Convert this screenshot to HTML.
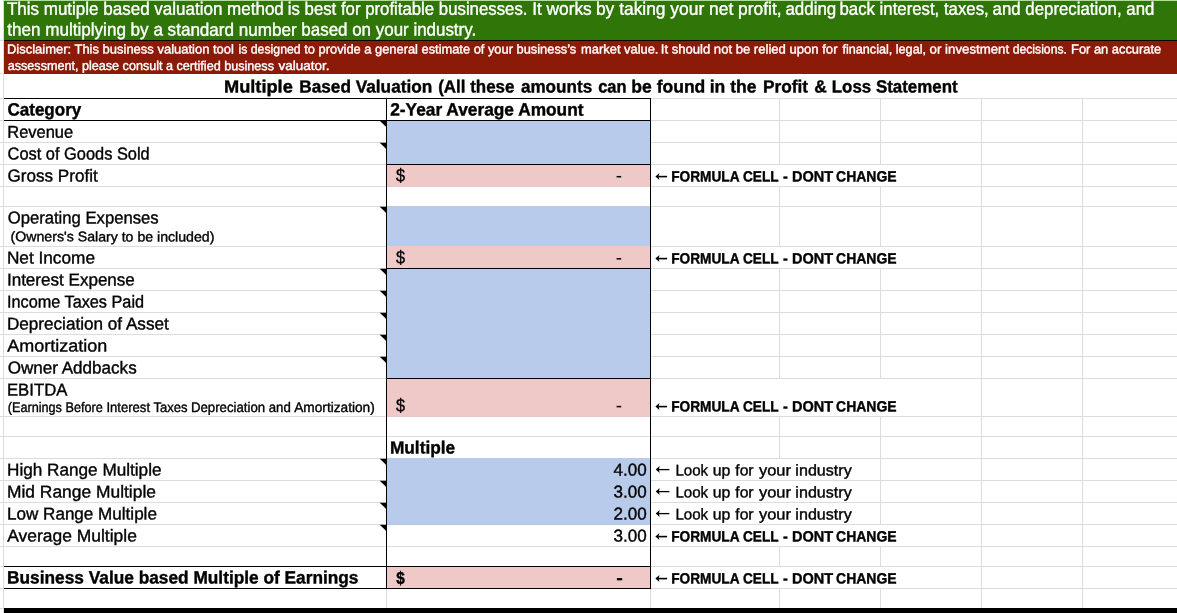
<!DOCTYPE html>
<html><head><meta charset="utf-8"><title>Multiple Based Valuation</title>
<style>
html,body{margin:0;padding:0;background:#fff;}
body{width:1177px;height:613px;position:relative;overflow:hidden;font-family:"Liberation Sans",sans-serif;color:#000;}
.a{position:absolute;}
.t{position:absolute;white-space:pre;transform-origin:0 0;line-height:1;}
.hl{position:absolute;height:1px;background:#dcdcdc;left:0;width:1177px;}
.vl{position:absolute;width:1px;background:#dcdcdc;}
.bk{background:#000;}
svg{position:absolute;left:0;top:0;}
</style></head><body>

<div class="hl" style="top:40px"></div>
<div class="hl" style="top:73px"></div>
<div class="hl" style="top:98px"></div>
<div class="hl" style="top:120px"></div>
<div class="hl" style="top:142px"></div>
<div class="hl" style="top:164px"></div>
<div class="hl" style="top:186px"></div>
<div class="hl" style="top:206px"></div>
<div class="hl" style="top:246px"></div>
<div class="hl" style="top:268px"></div>
<div class="hl" style="top:290px"></div>
<div class="hl" style="top:312px"></div>
<div class="hl" style="top:334px"></div>
<div class="hl" style="top:356px"></div>
<div class="hl" style="top:378px"></div>
<div class="hl" style="top:416px"></div>
<div class="hl" style="top:436px"></div>
<div class="hl" style="top:458px"></div>
<div class="hl" style="top:480px"></div>
<div class="hl" style="top:502px"></div>
<div class="hl" style="top:524px"></div>
<div class="hl" style="top:546px"></div>
<div class="hl" style="top:566px"></div>
<div class="hl" style="top:588px"></div>
<div class="hl" style="top:608px"></div>
<div class="vl" style="left:3px;top:0;height:613px"></div>
<div class="vl" style="left:386px;top:99px;height:509px"></div>
<div class="vl" style="left:650px;top:99px;height:509px"></div>
<div class="vl" style="left:779px;top:99px;height:509px"></div>
<div class="vl" style="left:880px;top:99px;height:509px"></div>
<div class="vl" style="left:981px;top:99px;height:509px"></div>
<div class="vl" style="left:1082px;top:99px;height:509px"></div>
<div class="a" style="left:651px;top:165px;width:246px;height:21px;background:#fff"></div>
<div class="a" style="left:651px;top:247px;width:246px;height:21px;background:#fff"></div>
<div class="a" style="left:651px;top:379px;width:246px;height:37px;background:#fff"></div>
<div class="a" style="left:651px;top:525px;width:246px;height:21px;background:#fff"></div>
<div class="a" style="left:651px;top:567px;width:246px;height:21px;background:#fff"></div>
<div class="a" style="left:651px;top:459px;width:202px;height:21px;background:#fff"></div>
<div class="a" style="left:651px;top:481px;width:202px;height:21px;background:#fff"></div>
<div class="a" style="left:651px;top:503px;width:202px;height:21px;background:#fff"></div>
<div class="a" style="left:4px;top:0px;width:1173px;height:1px;background:#b4dc9a"></div>
<div class="a" style="left:4px;top:1px;width:1173px;height:39px;background:#2f7508"></div>
<div class="a" style="left:4px;top:40px;width:1173px;height:1px;background:#0c0600"></div>
<div class="a" style="left:4px;top:41px;width:1173px;height:33px;background:#8c1a08"></div>
<div class="a" style="left:387px;top:121px;width:263px;height:43px;background:#b9cbeb"></div>
<div class="a" style="left:387px;top:165px;width:263px;height:21px;background:#efc8c8"></div>
<div class="a" style="left:387px;top:186px;width:263px;height:1px;background:#e6c6c6"></div>
<div class="a" style="left:387px;top:206px;width:263px;height:40px;background:#b9cbeb"></div>
<div class="a" style="left:387px;top:246px;width:263px;height:22px;background:#efc8c8"></div>
<div class="a" style="left:387px;top:269px;width:263px;height:109px;background:#b9cbeb"></div>
<div class="a" style="left:387px;top:379px;width:263px;height:37px;background:#efc8c8"></div>
<div class="a" style="left:387px;top:416px;width:263px;height:1px;background:#e6c6c6"></div>
<div class="a" style="left:387px;top:458px;width:263px;height:66px;background:#b9cbeb"></div>
<div class="a" style="left:387px;top:524px;width:263px;height:1px;background:#b4c4e2"></div>
<div class="a" style="left:387px;top:567px;width:263px;height:21px;background:#efc8c8"></div>
<div class="a bk" style="left:4px;top:98px;width:647px;height:1px"></div>
<div class="a bk" style="left:4px;top:120px;width:647px;height:1px"></div>
<div class="a bk" style="left:386px;top:164px;width:265px;height:1px"></div>
<div class="a bk" style="left:386px;top:268px;width:265px;height:1px"></div>
<div class="a bk" style="left:386px;top:378px;width:265px;height:1px"></div>
<div class="a bk" style="left:4px;top:566px;width:647px;height:1px"></div>
<div class="a bk" style="left:4px;top:588px;width:647px;height:1px"></div>
<div class="a bk" style="left:386px;top:98px;width:1px;height:491px"></div>
<div class="a bk" style="left:650px;top:98px;width:1px;height:491px"></div>
<div class="a" style="left:4px;top:608px;width:1173px;height:5px;background:#000"></div>
<svg width="1177" height="613" viewBox="0 0 1177 613"><path d="M379.7 120.8H386.5V127.3Z" fill="#000"/><path d="M379.7 142.8H386.5V149.3Z" fill="#000"/><path d="M379.7 206.8H386.5V213.3Z" fill="#000"/><path d="M379.7 268.8H386.5V275.3Z" fill="#000"/><path d="M379.7 290.8H386.5V297.3Z" fill="#000"/><path d="M379.7 312.8H386.5V319.3Z" fill="#000"/><path d="M379.7 334.8H386.5V341.3Z" fill="#000"/><path d="M379.7 356.8H386.5V363.3Z" fill="#000"/><path d="M379.7 458.8H386.5V465.3Z" fill="#000"/><path d="M379.7 480.8H386.5V487.3Z" fill="#000"/><path d="M379.7 502.8H386.5V509.3Z" fill="#000"/><path d="M379.7 524.8H386.5V531.3Z" fill="#000"/><path d="M658.4 175.79999999999998H667.1V177.4H658.4Z" fill="#000"/><path d="M655.4 176.6L659.4 173.1L658.6 176.6L659.4 180.1Z" fill="#000"/><path d="M658.4 257.8H667.1V259.40000000000003H658.4Z" fill="#000"/><path d="M655.4 258.6L659.4 255.10000000000002L658.6 258.6L659.4 262.1Z" fill="#000"/><path d="M658.4 405.8H667.1V407.40000000000003H658.4Z" fill="#000"/><path d="M655.4 406.6L659.4 403.1L658.6 406.6L659.4 410.1Z" fill="#000"/><path d="M658.4 535.8000000000001H667.1V537.4H658.4Z" fill="#000"/><path d="M655.4 536.6L659.4 533.1L658.6 536.6L659.4 540.1Z" fill="#000"/><path d="M658.4 577.8000000000001H667.1V579.4H658.4Z" fill="#000"/><path d="M655.4 578.6L659.4 575.1L658.6 578.6L659.4 582.1Z" fill="#000"/><path d="M658.7 468.95000000000005H669.4V470.25H658.7Z" fill="#000"/><path d="M655.7 469.6L659.7 466.1L658.9000000000001 469.6L659.7 473.1Z" fill="#000"/><path d="M658.7 490.95000000000005H669.4V492.25H658.7Z" fill="#000"/><path d="M655.7 491.6L659.7 488.1L658.9000000000001 491.6L659.7 495.1Z" fill="#000"/><path d="M658.7 512.95H669.4V514.25H658.7Z" fill="#000"/><path d="M655.7 513.6L659.7 510.1L658.9000000000001 513.6L659.7 517.1Z" fill="#000"/><rect x="616.6" y="175.95" width="4.6" height="1.5" fill="#000"/><rect x="616.6" y="258.05" width="4.6" height="1.5" fill="#000"/><rect x="616.6" y="405.85" width="4.6" height="1.5" fill="#000"/><rect x="616.9" y="578.1" width="5.3" height="2.2" fill="#000"/></svg>
<svg width="1177" height="613" viewBox="0 0 1177 613" font-family="Liberation Sans, sans-serif" style="white-space:pre;will-change:transform">
<text font-size="18.0" transform="translate(6.90,14.73) rotate(0.03) scale(0.9454,1)" fill="#fff" stroke="#fff" stroke-width="0.4">This mutiple based valuation method</text>
<text font-size="18.0" transform="translate(287.77,14.73) rotate(0.03) scale(0.9329,1)" fill="#fff" stroke="#fff" stroke-width="0.4">is best for profitable businesses.</text>
<text font-size="18.0" transform="translate(532.14,14.73) rotate(0.03) scale(0.9622,1)" fill="#fff" stroke="#fff" stroke-width="0.4">It works</text>
<text font-size="18.0" transform="translate(595.93,14.73) rotate(0.03) scale(0.9674,1)" fill="#fff" stroke="#fff" stroke-width="0.4">by taking your net profit,</text>
<text font-size="18.0" transform="translate(785.40,14.73) rotate(0.03) scale(0.9408,1)" fill="#fff" stroke="#fff" stroke-width="0.4">adding</text>
<text font-size="18.0" transform="translate(839.47,14.73) rotate(0.03) scale(0.9331,1)" fill="#fff" stroke="#fff" stroke-width="0.4">back interest, taxes,</text>
<text font-size="18.0" transform="translate(992.60,14.73) rotate(0.03) scale(0.9354,1)" fill="#fff" stroke="#fff" stroke-width="0.4">and depreciation, and</text>
<text font-size="18.0" transform="translate(7.30,35.53) rotate(0.03) scale(0.9489,1)" fill="#fff" stroke="#fff" stroke-width="0.4">then multiplying by a standard number</text>
<text font-size="18.0" transform="translate(301.36,35.53) rotate(0.03) scale(0.9414,1)" fill="#fff" stroke="#fff" stroke-width="0.4">based on your industry.</text>
<text font-size="13.0" transform="translate(6.90,53.43) rotate(0.03) scale(0.9995,1)" fill="#fff" stroke="#fff" stroke-width="0.4">Disclaimer: This business valuation tool</text>
<text font-size="13.0" transform="translate(238.50,53.43) rotate(0.03) scale(0.9460,1)" fill="#fff" stroke="#fff" stroke-width="0.4">is designed</text>
<text font-size="13.0" transform="translate(304.30,53.43) rotate(0.03) scale(0.9895,1)" fill="#fff" stroke="#fff" stroke-width="0.4">to provide a general estimate of your business’s</text>
<text font-size="13.0" transform="translate(581.10,53.43) rotate(0.03) scale(0.9920,1)" fill="#fff" stroke="#fff" stroke-width="0.4">market value.</text>
<text font-size="13.0" transform="translate(660.79,53.43) rotate(0.03) scale(1.0075,1)" fill="#fff" stroke="#fff" stroke-width="0.4">It should not be relied upon for</text>
<text font-size="13.0" transform="translate(842.50,53.43) rotate(0.03) scale(0.9721,1)" fill="#fff" stroke="#fff" stroke-width="0.4">financial, legal,</text>
<text font-size="13.0" transform="translate(929.60,53.43) rotate(0.03) scale(1.0201,1)" fill="#fff" stroke="#fff" stroke-width="0.4">or investment</text>
<text font-size="13.0" transform="translate(1012.70,53.43) rotate(0.03) scale(0.9389,1)" fill="#fff" stroke="#fff" stroke-width="0.4">decisions.</text>
<text font-size="13.0" transform="translate(1071.01,53.43) rotate(0.03) scale(0.9909,1)" fill="#fff" stroke="#fff" stroke-width="0.4">For an accurate</text>
<text font-size="13.0" transform="translate(7.70,70.03) rotate(0.03) scale(0.9706,1)" fill="#fff" stroke="#fff" stroke-width="0.4">assessment, please consult a certified business</text>
<text font-size="13.0" transform="translate(278.60,70.03) rotate(0.03) scale(1.0344,1)" fill="#fff" stroke="#fff" stroke-width="0.4">valuator.</text>
<text font-size="17.6" transform="translate(223.96,92.43) rotate(0.03) scale(1.0370,1)" font-weight="bold" stroke="#000" stroke-width="0.4">Multiple</text>
<text font-size="17.6" transform="translate(299.22,92.43) rotate(0.03) scale(0.9794,1)" font-weight="bold" stroke="#000" stroke-width="0.4">Based Valuation</text>
<text font-size="17.6" transform="translate(438.20,92.43) rotate(0.03) scale(0.9634,1)" font-weight="bold" stroke="#000" stroke-width="0.4">(All these</text>
<text font-size="17.6" transform="translate(520.90,92.43) rotate(0.03) scale(0.9724,1)" font-weight="bold" stroke="#000" stroke-width="0.4">amounts</text>
<text font-size="17.6" transform="translate(598.20,92.43) rotate(0.03) scale(0.9334,1)" font-weight="bold" stroke="#000" stroke-width="0.4">can</text>
<text font-size="17.6" transform="translate(631.30,92.43) rotate(0.03) scale(0.9970,1)" font-weight="bold" stroke="#000" stroke-width="0.4">be found</text>
<text font-size="17.6" transform="translate(709.70,92.43) rotate(0.03) scale(0.9972,1)" font-weight="bold" stroke="#000" stroke-width="0.4">in the</text>
<text font-size="17.6" transform="translate(763.02,92.43) rotate(0.03) scale(0.9806,1)" font-weight="bold" stroke="#000" stroke-width="0.4">Profit</text>
<text font-size="17.6" transform="translate(814.30,92.43) rotate(0.03) scale(0.9846,1)" font-weight="bold" stroke="#000" stroke-width="0.4">&amp;</text>
<text font-size="17.6" transform="translate(831.74,92.43) rotate(0.03) scale(0.9612,1)" font-weight="bold" stroke="#000" stroke-width="0.4">Loss Statement</text>
<text font-size="17.8" transform="translate(7.40,115.53) rotate(0.03) scale(0.9588,1)" font-weight="bold" stroke="#000" stroke-width="0.4">Category</text>
<text font-size="17.8" transform="translate(390.20,115.53) rotate(0.03) scale(0.9729,1)" font-weight="bold" stroke="#000" stroke-width="0.4">2-Year Average Amount</text>
<text font-size="17.2" transform="translate(7.24,137.63) rotate(0.03) scale(0.9577,1)" stroke="#000" stroke-width="0.38">Revenue</text>
<text font-size="17.2" transform="translate(7.60,159.43) rotate(0.03) scale(0.9530,1)" stroke="#000" stroke-width="0.38">Cost of Goods Sold</text>
<text font-size="17.2" transform="translate(7.60,181.43) rotate(0.03) scale(0.9928,1)" stroke="#000" stroke-width="0.38">Gross Profit</text>
<text font-size="17.2" transform="translate(7.70,223.53) rotate(0.03) scale(0.9688,1)" stroke="#000" stroke-width="0.38">Operating Expenses</text>
<text font-size="13.9" transform="translate(10.60,241.33) rotate(0.03) scale(1.0172,1)" stroke="#000" stroke-width="0.38">(Owners's Salary to be included)</text>
<text font-size="17.2" transform="translate(6.90,263.53) rotate(0.03) scale(1.0020,1)" stroke="#000" stroke-width="0.38">Net Income</text>
<text font-size="17.2" transform="translate(6.91,285.43) rotate(0.03) scale(0.9912,1)" stroke="#000" stroke-width="0.38">Interest Expense</text>
<text font-size="17.2" transform="translate(6.95,307.53) rotate(0.03) scale(0.9460,1)" stroke="#000" stroke-width="0.38">Income Taxes Paid</text>
<text font-size="17.2" transform="translate(6.90,329.43) rotate(0.03) scale(0.9964,1)" stroke="#000" stroke-width="0.38">Depreciation of Asset</text>
<text font-size="17.2" transform="translate(7.30,351.43) rotate(0.03) scale(1.0457,1)" stroke="#000" stroke-width="0.38">Amortization</text>
<text font-size="17.2" transform="translate(7.70,373.43) rotate(0.03) scale(0.9924,1)" stroke="#000" stroke-width="0.38">Owner Addbacks</text>
<text font-size="17.2" transform="translate(6.93,395.43) rotate(0.03) scale(0.9738,1)" stroke="#000" stroke-width="0.38">EBITDA</text>
<text font-size="17.6" transform="translate(389.92,453.43) rotate(0.03) scale(0.9821,1)" font-weight="bold" stroke="#000" stroke-width="0.4">Multiple</text>
<text font-size="17.2" transform="translate(7.00,475.53) rotate(0.03) scale(0.9986,1)" stroke="#000" stroke-width="0.38">High Range Multiple</text>
<text font-size="17.2" transform="translate(6.99,497.53) rotate(0.03) scale(1.0120,1)" stroke="#000" stroke-width="0.38">Mid Range Multiple</text>
<text font-size="17.2" transform="translate(7.01,519.53) rotate(0.03) scale(0.9933,1)" stroke="#000" stroke-width="0.38">Low Range Multiple</text>
<text font-size="17.2" transform="translate(7.30,541.53) rotate(0.03) scale(1.0146,1)" stroke="#000" stroke-width="0.38">Average Multiple</text>
<text font-size="17.8" transform="translate(7.08,583.43) rotate(0.03) scale(0.9717,1)" font-weight="bold" stroke="#000" stroke-width="0.4">Business Value based Multiple of Earnings</text>
<text font-size="13.9" transform="translate(7.70,411.93) rotate(0.03) scale(0.9128,1)" stroke="#000" stroke-width="0.38">(Earnings Before</text>
<text font-size="13.9" transform="translate(106.46,411.93) rotate(0.03) scale(0.9401,1)" stroke="#000" stroke-width="0.38">Interest Taxes</text>
<text font-size="13.9" transform="translate(190.95,411.93) rotate(0.03) scale(0.9507,1)" stroke="#000" stroke-width="0.38">Depreciation and</text>
<text font-size="13.9" transform="translate(294.20,411.93) rotate(0.03) scale(0.9852,1)" stroke="#000" stroke-width="0.38">Amortization)</text>
<text font-size="14.9" transform="translate(671.18,181.43) rotate(0.03) scale(0.9196,1)" font-weight="bold" stroke="#000" stroke-width="0.4">FORMULA CELL</text>
<text font-size="14.9" transform="translate(783.10,181.43) rotate(0.03) scale(0.9749,1)" font-weight="bold" stroke="#000" stroke-width="0.4">- DONT</text>
<text font-size="14.9" transform="translate(836.10,181.43) rotate(0.03) scale(0.9381,1)" font-weight="bold" stroke="#000" stroke-width="0.4">CHANGE</text>
<text font-size="14.9" transform="translate(671.18,263.43) rotate(0.03) scale(0.9196,1)" font-weight="bold" stroke="#000" stroke-width="0.4">FORMULA CELL</text>
<text font-size="14.9" transform="translate(783.10,263.43) rotate(0.03) scale(0.9749,1)" font-weight="bold" stroke="#000" stroke-width="0.4">- DONT</text>
<text font-size="14.9" transform="translate(836.10,263.43) rotate(0.03) scale(0.9381,1)" font-weight="bold" stroke="#000" stroke-width="0.4">CHANGE</text>
<text font-size="14.9" transform="translate(671.18,411.43) rotate(0.03) scale(0.9196,1)" font-weight="bold" stroke="#000" stroke-width="0.4">FORMULA CELL</text>
<text font-size="14.9" transform="translate(783.10,411.43) rotate(0.03) scale(0.9749,1)" font-weight="bold" stroke="#000" stroke-width="0.4">- DONT</text>
<text font-size="14.9" transform="translate(836.10,411.43) rotate(0.03) scale(0.9381,1)" font-weight="bold" stroke="#000" stroke-width="0.4">CHANGE</text>
<text font-size="14.9" transform="translate(671.18,541.43) rotate(0.03) scale(0.9196,1)" font-weight="bold" stroke="#000" stroke-width="0.4">FORMULA CELL</text>
<text font-size="14.9" transform="translate(783.10,541.43) rotate(0.03) scale(0.9749,1)" font-weight="bold" stroke="#000" stroke-width="0.4">- DONT</text>
<text font-size="14.9" transform="translate(836.10,541.43) rotate(0.03) scale(0.9381,1)" font-weight="bold" stroke="#000" stroke-width="0.4">CHANGE</text>
<text font-size="14.9" transform="translate(671.18,583.43) rotate(0.03) scale(0.9196,1)" font-weight="bold" stroke="#000" stroke-width="0.4">FORMULA CELL</text>
<text font-size="14.9" transform="translate(783.10,583.43) rotate(0.03) scale(0.9749,1)" font-weight="bold" stroke="#000" stroke-width="0.4">- DONT</text>
<text font-size="14.9" transform="translate(836.10,583.43) rotate(0.03) scale(0.9381,1)" font-weight="bold" stroke="#000" stroke-width="0.4">CHANGE</text>
<text font-size="15.5" transform="translate(675.43,475.43) rotate(0.03) scale(0.9708,1)" stroke="#000" stroke-width="0.38">Look</text>
<text font-size="15.5" transform="translate(712.68,475.43) rotate(0.03) scale(1.0243,1)" stroke="#000" stroke-width="0.38">up</text>
<text font-size="15.5" transform="translate(735.30,475.43) rotate(0.03) scale(1.0097,1)" stroke="#000" stroke-width="0.38">for</text>
<text font-size="15.5" transform="translate(759.00,475.43) rotate(0.03) scale(1.0603,1)" stroke="#000" stroke-width="0.38">your</text>
<text font-size="15.5" transform="translate(795.36,475.43) rotate(0.03) scale(1.0388,1)" stroke="#000" stroke-width="0.38">industry</text>
<text font-size="15.5" transform="translate(675.43,497.43) rotate(0.03) scale(0.9708,1)" stroke="#000" stroke-width="0.38">Look</text>
<text font-size="15.5" transform="translate(712.68,497.43) rotate(0.03) scale(1.0243,1)" stroke="#000" stroke-width="0.38">up</text>
<text font-size="15.5" transform="translate(735.30,497.43) rotate(0.03) scale(1.0097,1)" stroke="#000" stroke-width="0.38">for</text>
<text font-size="15.5" transform="translate(759.00,497.43) rotate(0.03) scale(1.0603,1)" stroke="#000" stroke-width="0.38">your</text>
<text font-size="15.5" transform="translate(795.36,497.43) rotate(0.03) scale(1.0388,1)" stroke="#000" stroke-width="0.38">industry</text>
<text font-size="15.5" transform="translate(675.43,519.43) rotate(0.03) scale(0.9708,1)" stroke="#000" stroke-width="0.38">Look</text>
<text font-size="15.5" transform="translate(712.68,519.43) rotate(0.03) scale(1.0243,1)" stroke="#000" stroke-width="0.38">up</text>
<text font-size="15.5" transform="translate(735.30,519.43) rotate(0.03) scale(1.0097,1)" stroke="#000" stroke-width="0.38">for</text>
<text font-size="15.5" transform="translate(759.00,519.43) rotate(0.03) scale(1.0603,1)" stroke="#000" stroke-width="0.38">your</text>
<text font-size="15.5" transform="translate(795.36,519.43) rotate(0.03) scale(1.0388,1)" stroke="#000" stroke-width="0.38">industry</text>
<text font-size="17.2" transform="translate(613.50,475.43) rotate(0.03) scale(0.9911,1)" stroke="#000" stroke-width="0.38">4.00</text>
<text font-size="17.2" transform="translate(613.50,497.43) rotate(0.03) scale(0.9911,1)" stroke="#000" stroke-width="0.38">3.00</text>
<text font-size="17.2" transform="translate(613.50,519.43) rotate(0.03) scale(0.9911,1)" stroke="#000" stroke-width="0.38">2.00</text>
<text font-size="17.2" transform="translate(613.50,541.53) rotate(0.03) scale(0.9911,1)" stroke="#000" stroke-width="0.38">3.00</text>
<text font-size="18.3" transform="translate(396.10,181.53) rotate(0.03) scale(0.8900,1)" stroke="#000" stroke-width="0.38">$</text>
<text font-size="18.3" transform="translate(396.10,263.53) rotate(0.03) scale(0.8900,1)" stroke="#000" stroke-width="0.38">$</text>
<text font-size="18.3" transform="translate(396.10,411.53) rotate(0.03) scale(0.8900,1)" stroke="#000" stroke-width="0.38">$</text>
<text font-size="17.6" transform="translate(396.20,583.53) rotate(0.03) scale(0.8700,1)" font-weight="bold" stroke="#000" stroke-width="0.4">$</text>
</svg>
</body></html>
